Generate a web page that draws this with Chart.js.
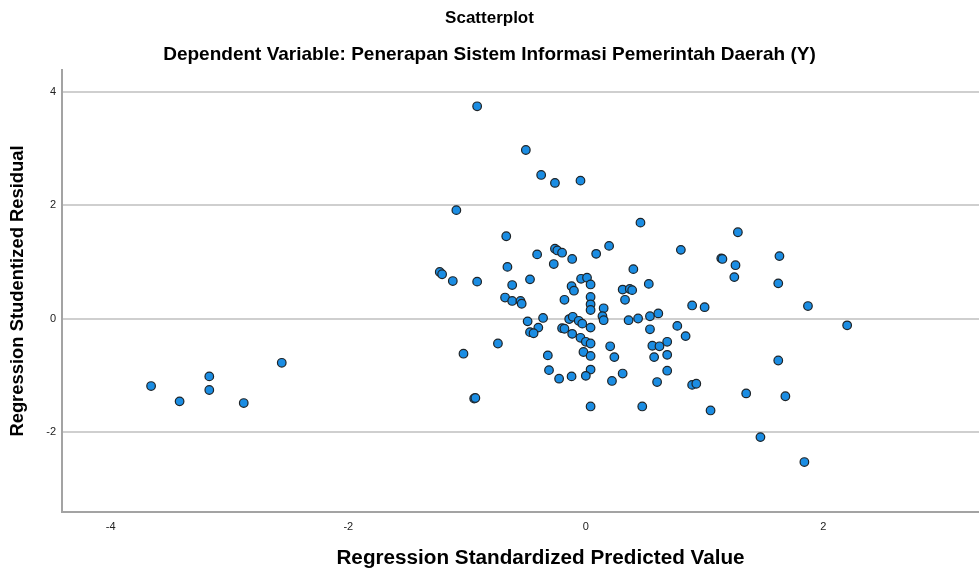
<!DOCTYPE html>
<html>
<head>
<meta charset="utf-8">
<script src="https://cdn.jsdelivr.net/npm/chart.js@4/dist/chart.umd.min.js"></script>
<style>
  html, body { margin: 0; padding: 0; background: #ffffff; overflow: hidden; }
  #wrap { width: 979px; height: 571px; position: relative; }
  canvas { display: block; }
</style>
</head>
<body>
<div id="wrap"><canvas id="c" width="979" height="571"></canvas></div>
<script>
const chartTitle = "Scatterplot";
const chartSubtitle = "Dependent Variable: Penerapan Sistem Informasi Pemerintah Daerah (Y)";
const xAxisTitle = "Regression Standardized Predicted Value";
const yAxisTitle = "Regression Studentized Residual";
const xTicks = [-4, -2, 0, 2];
const yTicks = [-2, 0, 2, 4];

const predicted = [
  -3.66, -3.42, -3.17, -3.17, -2.88, -2.56,
  -1.23, -1.21, -1.12, -1.09, -1.03, -0.94, -0.93, -0.915, -0.915,
  -0.505, -0.376, -0.26, -0.045,
  0.46, -0.67, -0.41, -0.26, -0.24, -0.20, -0.115, 0.087, 0.196, 0.80, 1.14, 1.15,
  -0.27, -0.66, 0.40, -0.62, -0.47, -0.12, -0.10, -0.04, 0.01, 0.04,
  0.53, 0.31, 0.37, 0.39, 0.33, -0.68, -0.62, -0.55, -0.54, -0.18,
  0.04, 0.04, 0.04, 0.15, 0.14, 0.15, 0.895, 1.00, 0.54, 0.61, 0.36, 0.44,
  -0.49, -0.36, -0.14, -0.11, -0.06, -0.03, 0.04, -0.40, -0.47, -0.44,
  -0.20, -0.18, -0.115, -0.045, 0.00, 0.04, -0.74, 0.54, 0.77, 0.84,
  0.205, 0.56, 0.62, 0.685, -0.32, -0.02, 0.04, 0.24, 0.575, 0.685,
  -0.31, 0.04, -0.225, -0.12, 0.00, 0.22, 0.31, 0.60, 0.685, 0.895, 0.93,
  0.04, 0.475, 1.05,
  1.28, 1.26, 1.25, 1.63, 1.62, 1.87, 2.20, 1.62, 1.35, 1.68, 1.47, 1.84
];
const residual = [
  -1.19, -1.46, -1.02, -1.26, -1.49, -0.78,
  0.82, 0.78, 0.66, 1.91, -0.62, -1.41, -1.40, 0.65, 3.74,
  2.97, 2.53, 2.39, 2.43,
  1.69, 1.45, 1.13, 1.23, 1.20, 1.16, 1.05, 1.14, 1.28, 1.21, 1.06, 1.05,
  0.96, 0.91, 0.87, 0.59, 0.69, 0.57, 0.49, 0.70, 0.72, 0.60,
  0.61, 0.51, 0.52, 0.50, 0.33, 0.37, 0.31, 0.31, 0.26, 0.33,
  0.38, 0.25, 0.15, 0.18, 0.04, -0.03, 0.23, 0.20, 0.04, 0.09, -0.03, 0.00,
  -0.05, 0.01, -0.01, 0.03, -0.04, -0.09, -0.16, -0.16, -0.24, -0.26,
  -0.17, -0.18, -0.27, -0.34, -0.41, -0.44, -0.44, -0.19, -0.13, -0.31,
  -0.49, -0.48, -0.49, -0.41, -0.65, -0.59, -0.66, -0.68, -0.68, -0.64,
  -0.91, -0.90, -1.06, -1.02, -1.01, -1.10, -0.97, -1.12, -0.92, -1.17, -1.15,
  -1.55, -1.55, -1.62,
  1.52, 0.94, 0.73, 1.10, 0.62, 0.22, -0.12, -0.74, -1.32, -1.37, -2.09, -2.53
];

const points = predicted.map((x, i) => ({ x: x, y: residual[i] }));
const FONT = 'Arial, "Liberation Sans", sans-serif';

// The reference axis title is centred on an axis that runs past the cropped right edge.
const xTitleShift = {
  id: 'xTitleShift',
  beforeDraw(chart) {
    const sx = chart.scales.x;
    if (sx._patched) return;
    const orig = sx.drawTitle.bind(sx);
    sx.drawTitle = function () {
      const r = this.right;
      this.right = r + 40;
      orig();
      this.right = r;
    };
    sx._patched = true;
  }
};

new Chart(document.getElementById('c'), {
  type: 'scatter',
  data: {
    datasets: [{
      data: points,
      pointRadius: 4.3,
      pointHoverRadius: 4.3,
      pointBorderWidth: 1.2,
      pointBackgroundColor: '#1b8de3',
      pointBorderColor: '#1e2428'
    }]
  },
  plugins: [xTitleShift],
  options: {
    responsive: false,
    maintainAspectRatio: false,
    animation: false,
    devicePixelRatio: 1,
    layout: { autoPadding: false, padding: { left: 0, right: 0, top: 0, bottom: 0 } },
    plugins: {
      legend: { display: false },
      tooltip: { enabled: false },
      title: {
        display: true,
        text: chartTitle,
        color: '#000',
        font: { family: FONT, size: 17, weight: 'bold', lineHeight: 1.2 },
        padding: { top: 7.8, bottom: 15.4 }
      },
      subtitle: {
        display: true,
        text: chartSubtitle,
        color: '#000',
        font: { family: FONT, size: 19, weight: 'bold', lineHeight: 1.2 },
        padding: { top: 0, bottom: 3.6 }
      }
    },
    scales: {
      x: {
        type: 'linear',
        min: -4.41,
        max: 3.31,
        afterBuildTicks: s => { s.ticks = xTicks.map(v => ({ value: v })); },
        afterFit: s => { s.height = 59; s.paddingLeft = 0; s.paddingRight = 0; },
        grid: { display: false, drawTicks: false },
        border: { display: true, color: '#a3a3a3', width: 2 },
        ticks: {
          color: '#222',
          font: { family: FONT, size: 11 },
          padding: 8,
          maxRotation: 0
        },
        title: {
          display: true,
          text: xAxisTitle,
          color: '#000',
          font: { family: FONT, size: 20.7, weight: 'bold', lineHeight: 1.2 },
          padding: { top: 1.6, bottom: 0 }
        }
      },
      y: {
        type: 'linear',
        min: -3.41,
        max: 4.38,
        afterBuildTicks: s => { s.ticks = yTicks.map(v => ({ value: v })); },
        afterFit: s => { s.width = 62; s.paddingTop = 0; s.paddingBottom = 0; },
        grid: { display: true, drawTicks: false, color: '#cfcfcf', lineWidth: 2 },
        border: { display: true, color: '#a3a3a3', width: 2 },
        ticks: {
          color: '#222',
          font: { family: FONT, size: 11 },
          padding: 6
        },
        title: {
          display: true,
          text: yAxisTitle,
          color: '#000',
          font: { family: FONT, size: 18.4, weight: 'bold', lineHeight: 1.2 },
          padding: { top: 6.96, bottom: 0 }
        }
      }
    }
  }
});
</script>
</body>
</html>
